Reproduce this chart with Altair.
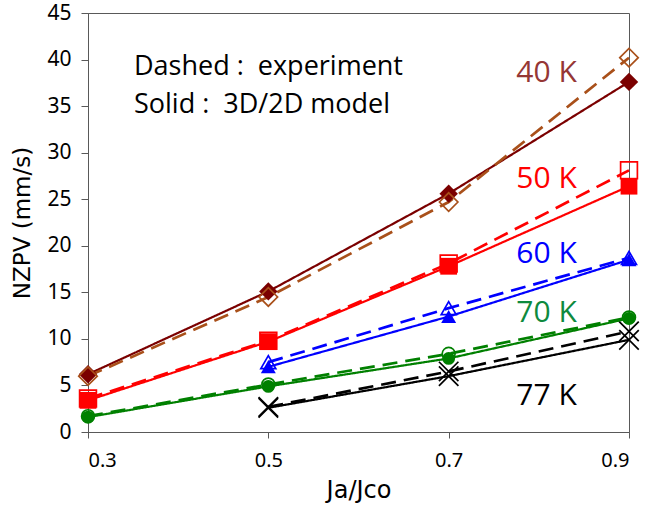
import altair as alt
import pandas as pd

# ---- data ----
ratio = [0.3, 0.5, 0.7, 0.9]

m40 = [6.2, 15.1, 25.6, 37.6]
e40 = [6.0, 14.5, 24.7, 40.2]
m50 = [3.4, 9.7, 17.8, 26.4]
e50 = [3.6, 9.8, 18.1, 28.1]
m60 = [None, 7.0, 12.4, 18.5]
e60 = [None, 7.5, 13.3, 18.7]
m70 = [1.6, 4.9, 7.9, 12.2]
e70 = [1.7, 5.1, 8.4, 12.3]
m77 = [None, 2.6, 6.0, 9.9]
e77 = [None, 2.7, 6.5, 10.8]

temps = ["40 K", "50 K", "60 K", "70 K", "77 K"]
model_vals = [m40, m50, m60, m70, m77]
exp_vals = [e40, e50, e60, e70, e77]

label_x = [0.775, 0.775, 0.775, 0.775, 0.775]
label_y = [37.6, 26.2, 18.15, 11.8, 2.9]
label_colors = ["#953735", "#FF0000", "#0000FF", "#0E8A3E", "#000000"]

notes = ["Dashed :\u00a0 experiment", "Solid :\u00a0 3D/2D model"]
note_x = [0.351, 0.351]
note_y = [38.35, 34.25]

model_colors = ["#7B0000", "#FF0000", "#0000FF", "#008000", "#000000"]
exp_colors = ["#A9501A", "#FF0000", "#0000FF", "#008000", "#000000"]

# ---- build tables ----
rows = []
for t, mv, ev in zip(temps, model_vals, exp_vals):
    for x, y in zip(ratio, mv):
        if y is not None:
            rows.append({"T": t, "kind": "model", "key": t + " model", "x": x, "y": y})
    for x, y in zip(ratio, ev):
        if y is not None:
            rows.append({"T": t, "kind": "exp", "key": t + " exp", "x": x, "y": y})
df = pd.DataFrame(rows)

keys = [t + " model" for t in temps] + [t + " exp" for t in temps]
key_colors = model_colors + exp_colors

labels_df = pd.DataFrame({"text": temps, "x": label_x, "y": label_y, "c": label_colors})
notes_df = pd.DataFrame({"text": notes, "x": note_x, "y": note_y})

xscale = alt.Scale(domain=[0.3, 0.9], nice=False, zero=False)
yscale = alt.Scale(domain=[0, 45], nice=False)

xenc = alt.X("x:Q", scale=xscale,
             axis=alt.Axis(values=ratio, format=".1f", title="Ja/Jco", grid=False,
                           labelFontSize=20, titleFontSize=24, tickSize=6,
                           labelPadding=12, titlePadding=8, labelFont="Noto Sans",
                           titleFont="DejaVu Sans", titleFontWeight="normal",
                           labelColor="#000000", titleColor="#000000",
                           domainColor="#595959", tickColor="#595959"))
yenc = alt.Y("y:Q", scale=yscale,
             axis=alt.Axis(values=list(range(0, 46, 5)), title="NZPV (mm/s)", grid=False,
                           labelFontSize=21, titleFontSize=23, tickSize=7,
                           labelPadding=10, titlePadding=12, labelFont="Noto Sans",
                           titleFont="DejaVu Sans", titleFontWeight="normal",
                           labelColor="#000000", titleColor="#000000",
                           domainColor="#595959", tickColor="#595959"))

color = alt.Color("key:N", scale=alt.Scale(domain=keys, range=key_colors), legend=None)

lines = alt.Chart(df).mark_line().encode(
    x=xenc, y=yenc, color=color, detail="key:N",
    strokeDash=alt.StrokeDash("kind:N", scale=alt.Scale(domain=["model", "exp"],
                                                        range=[[1, 0], [15, 8]]), legend=None),
    strokeWidth=alt.StrokeWidth("kind:N", scale=alt.Scale(domain=["model", "exp"],
                                                          range=[2.2, 2.7]), legend=None),
)

shape_dom = ["40 K", "50 K", "60 K", "70 K"]
shape_rng = ["diamond", "square", "triangle-up", "circle"]

filled = alt.Chart(df).transform_filter(
    "datum.kind == 'model' && datum.T != '77 K'"
).mark_point(filled=True, opacity=1).encode(
    x="x:Q", y="y:Q", color=color,
    shape=alt.Shape("T:N", scale=alt.Scale(domain=shape_dom, range=shape_rng), legend=None),
    size=alt.Size("T:N", scale=alt.Scale(domain=shape_dom, range=[340, 165, 360, 340]), legend=None),
)

openm = alt.Chart(df).transform_filter(
    "datum.kind == 'exp' && datum.T != '77 K'"
).mark_point(filled=False, opacity=1, strokeWidth=1.7).encode(
    x="x:Q", y="y:Q", color=color,
    shape=alt.Shape("T:N", scale=alt.Scale(domain=shape_dom, range=shape_rng), legend=None),
    size=alt.Size("T:N", scale=alt.Scale(domain=shape_dom, range=[500, 320, 520, 420]), legend=None),
)

xmarks = alt.Chart(df).transform_filter(
    "datum.T == '77 K'"
).mark_point(filled=False, opacity=1, strokeWidth=1.7, size=380,
             shape="M-1,-1L1,1M1,-1L-1,1").encode(
    x="x:Q", y="y:Q", color=color,
)

temp_labels = alt.Chart(labels_df).mark_text(
    align="left", baseline="alphabetic", fontSize=30, font="Open Sans"
).encode(
    x="x:Q", y="y:Q", text="text:N",
    color=alt.Color("c:N", scale=None),
)

note_text = alt.Chart(notes_df).mark_text(
    align="left", baseline="alphabetic", fontSize=27, font="Open Sans", color="#000000"
).encode(x="x:Q", y="y:Q", text="text:N")

chart = alt.layer(lines, filled, openm, xmarks, temp_labels, note_text).properties(
    width=541, height=419,
    autosize=alt.AutoSizeParams(type="none"),
    padding={"left": 88, "top": 13, "right": 19, "bottom": 78},
    background="white",
).configure_view(stroke="#595959", strokeWidth=1)

chart.save("out.html", embed_options={"renderer": "svg", "actions": False})
